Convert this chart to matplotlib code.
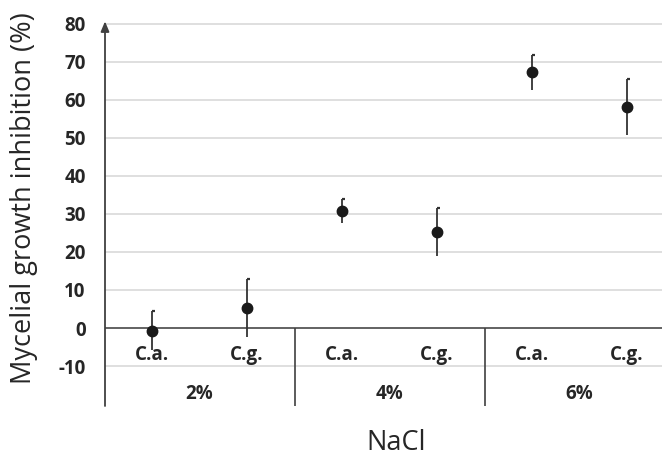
import matplotlib
matplotlib.use('agg')
import matplotlib.pyplot as plt
from matplotlib.path import Path
from matplotlib.markers import MarkerStyle
import numpy as np

# data
groups = ['2%', '4%', '6%']
strains = ['C.a.', 'C.g.', 'C.a.', 'C.g.', 'C.a.', 'C.g.']
inhibition = [-0.7, 5.3, 30.8, 25.3, 67.2, 58.0]
err = [5.2, 7.6, 3.2, 6.3, 4.6, 7.4]

plt.rcParams['font.family'] = ['Open Sans', 'DejaVu Sans']
plt.rcParams['axes.unicode_minus'] = False

fig = plt.figure(figsize=(6.62, 4.57), dpi=100)
ax = fig.add_axes([105 / 662, 51 / 457, 557 / 662, 390 / 457])

x = np.arange(len(inhibition))
xmin, xmax = -0.495, 5.368
ymin, ymax = -20.5, 82
ax.set_xlim(xmin, xmax)
ax.set_ylim(ymin, ymax)

# grid
ax.set_yticks(range(-10, 81, 10))
ax.yaxis.grid(True, color='#d9d9d9', linewidth=1.2)
ax.set_axisbelow(True)
ax.axhline(0, color='#595959', linewidth=1.3, zorder=1)
for s in ax.spines.values():
    s.set_visible(False)
ax.tick_params(axis='y', length=0, pad=14, labelsize=13.5)
ax.tick_params(axis='x', bottom=False, labelbottom=False)
for t in ax.get_yticklabels():
    t.set_fontweight('bold')
    t.set_color('#262626')

# y axis with arrow
ax.annotate('', xy=(xmin, 80.6), xytext=(xmin, ymin),
            arrowprops=dict(arrowstyle='-|>,head_length=0.6,head_width=0.25',
                            color='#404040', lw=1.3, shrinkA=0, shrinkB=0),
            annotation_clip=False)

# group separators
ax.vlines([1.5, 3.5], ymin, 0, color='#404040', linewidth=1.2)

# error bars: line from low to high, cap only on top to the right
ax.errorbar(x, inhibition, yerr=err, fmt='o', color='#1a1a1a', ecolor='#333333',
            elinewidth=1.3, markersize=7.5, capsize=0, zorder=3)
cap = MarkerStyle(Path([(0, 0), (1, 0)], [Path.MOVETO, Path.LINETO]))
ax.plot(x, np.array(inhibition) + np.array(err), linestyle='none', marker=cap,
        markersize=5, markeredgewidth=1.6, color='#333333', zorder=3)

# category labels
for xi, s in zip(x, strains):
    ax.text(xi, -7.1, s, ha='center', va='center', fontsize=13.5,
            fontweight='bold', color='#262626')
for i, g in enumerate(groups):
    ax.text(2 * i + 0.5, -17.3, g, ha='center', va='center', fontsize=13.5,
            fontweight='bold', color='#262626')

fig.text(24 / 662, 1 - 198 / 457, 'Mycelial growth inhibition (%)', rotation=90,
         ha='center', va='center', fontsize=19.5, color='#262626')
fig.text(396 / 662, 1 - 443 / 457, 'NaCl', ha='center', va='center',
         fontsize=19.5, color='#262626')

fig.savefig('out.png', dpi=100)
